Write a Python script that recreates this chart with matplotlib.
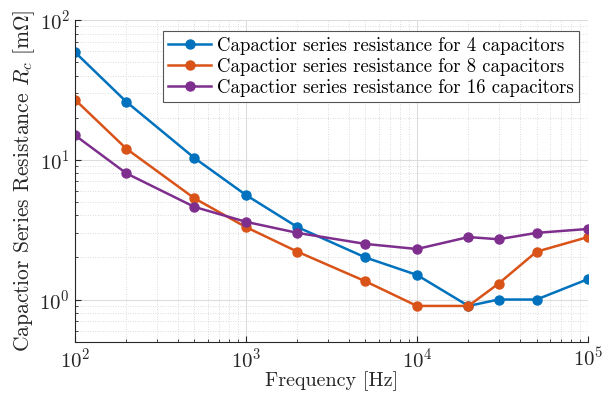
import matplotlib
matplotlib.use("Agg")
import matplotlib.pyplot as plt

plt.rcParams['font.family'] = 'serif'
plt.rcParams['font.serif'] = ['cmr10']
plt.rcParams['mathtext.fontset'] = 'cm'
plt.rcParams['axes.formatter.use_mathtext'] = True

# frecuencias y resistencias
freq = [1e2, 2e2, 5e2, 1e3, 2e3, 5e3, 1e4, 2e4, 3e4, 5e4, 1e5]
r_4 = [59, 26, 10.3, 5.6, 3.3, 2.0, 1.5, 0.9, 1.0, 1.0, 1.4]
r_8 = [27, 12, 5.3, 3.3, 2.2, 1.35, 0.9, 0.9, 1.3, 2.2, 2.8]
r_16 = [15, 8.0, 4.6, 3.6, 3.0, 2.5, 2.3, 2.8, 2.7, 3.0, 3.2]
labels = ['Capactior series resistance for 4 capacitors',
          'Capactior series resistance for 8 capacitors',
          'Capactior series resistance for 16 capacitors']
colors = ['#0072BD', '#D95319', '#7E2F8E']

fig = plt.figure(figsize=(6.09, 3.94), dpi=100)
ax = fig.add_axes([0.123, 0.133, 0.8425, 0.816])

for y, lab, c in zip([r_4, r_8, r_16], labels, colors):
    ax.plot(freq, y, '-o', color=c, lw=1.8, ms=6.5, label=lab)

ax.set_xscale('log')
ax.set_yscale('log')
ax.set_xlim(1e2, 1e5)
ax.set_ylim(0.5, 1e2)

ax.grid(True, which='major', color='#dcdcdc', lw=0.8, ls='-')
ax.grid(True, which='minor', color='#d0d0d0', lw=0.6, ls=(0, (1, 2)))
ax.set_axisbelow(True)

ax.spines['top'].set_visible(False)
ax.spines['right'].set_visible(False)
ax.spines['left'].set_color('#262626')
ax.spines['bottom'].set_color('#262626')
ax.tick_params(which='both', direction='in', colors='#262626', labelsize=15)
ax.tick_params(which='major', length=4)
ax.tick_params(which='minor', length=2.5)
ax.tick_params(axis='x', pad=4)

ax.set_xlabel('Frequency [Hz]', fontsize=14.5, color='#262626', labelpad=0)
ax.set_ylabel(r'Capactior Series Resistance $R_c$ [m$\Omega$]', fontsize=15.5,
              color='#262626', labelpad=2)

leg = ax.legend(loc='upper right', bbox_to_anchor=(0.983, 0.965), fontsize=13.5,
                fancybox=False, framealpha=1, edgecolor='#555555',
                handlelength=2.3, handletextpad=0.3, borderpad=0.3,
                labelspacing=0.15, borderaxespad=0)
leg.get_frame().set_linewidth(0.8)

fig.savefig('out.png', dpi=100)
